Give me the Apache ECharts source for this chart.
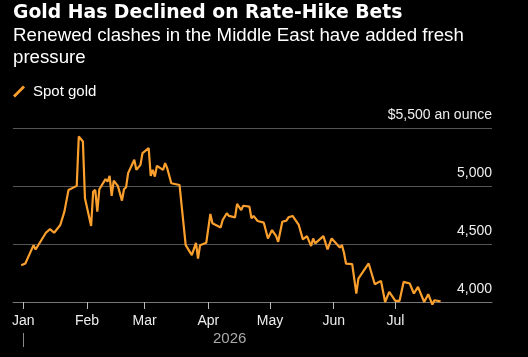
<!DOCTYPE html>
<html>
<head>
<meta charset="utf-8">
<script src="https://cdn.jsdelivr.net/npm/echarts@6/dist/echarts.min.js"></script>
<style>
  html, body { margin: 0; padding: 0; background: #000; }
  #chart { width: 528px; height: 357px; }
</style>
</head>
<body>
<div id="chart"></div>
<script>
// spot gold (approx)
const dates = [
  '2025-12-31', '2026-01-02', '2026-01-06', '2026-01-07', '2026-01-12', '2026-01-14', '2026-01-16',
  '2026-01-19', '2026-01-21', '2026-01-23', '2026-01-27', '2026-01-28', '2026-01-30', '2026-01-31',
  '2026-02-03', '2026-02-04', '2026-02-05', '2026-02-06', '2026-02-07', '2026-02-10', '2026-02-11',
  '2026-02-12', '2026-02-13', '2026-02-14', '2026-02-16', '2026-02-18', '2026-02-19', '2026-02-20',
  '2026-02-21', '2026-02-24', '2026-02-25', '2026-02-27', '2026-02-28', '2026-03-03', '2026-03-04',
  '2026-03-05', '2026-03-06', '2026-03-07', '2026-03-10', '2026-03-11', '2026-03-12', '2026-03-14',
  '2026-03-18', '2026-03-21', '2026-03-24', '2026-03-26', '2026-03-27', '2026-03-28', '2026-03-31',
  '2026-04-02', '2026-04-03', '2026-04-07', '2026-04-08', '2026-04-10', '2026-04-11', '2026-04-14',
  '2026-04-15', '2026-04-17', '2026-04-18', '2026-04-21', '2026-04-22', '2026-04-23', '2026-04-25',
  '2026-04-28', '2026-04-30', '2026-05-02', '2026-05-04', '2026-05-05', '2026-05-07', '2026-05-09',
  '2026-05-10', '2026-05-12', '2026-05-15', '2026-05-17', '2026-05-19', '2026-05-21', '2026-05-22',
  '2026-05-23', '2026-05-27', '2026-05-29', '2026-05-31', '2026-06-03', '2026-06-04', '2026-06-05',
  '2026-06-06', '2026-06-07', '2026-06-10', '2026-06-12', '2026-06-13', '2026-06-18', '2026-06-21',
  '2026-06-24', '2026-06-26', '2026-06-28', '2026-07-01', '2026-07-03', '2026-07-05', '2026-07-08',
  '2026-07-10', '2026-07-12', '2026-07-15', '2026-07-17', '2026-07-19', '2026-07-20', '2026-07-23'
]
const spotGold = [
  4317, 4332, 4490, 4453, 4597, 4628, 4597,
  4664, 4779, 4966, 5001, 5427, 5384, 4894,
  4655, 4952, 4966, 4779, 4972, 5059, 5038,
  5087, 4914, 5047, 5001, 4874, 4972, 4989,
  5111, 5226, 5139, 5182, 5284, 5327, 5087,
  5139, 5081, 5174, 5139, 5197, 5154, 5024,
  5009, 4490, 4404, 4510, 4375, 4490, 4510,
  4759, 4678, 4643, 4707, 4765, 4742, 4730,
  4845, 4793, 4830, 4822, 4721, 4742, 4698,
  4684, 4548, 4620, 4568, 4519, 4692, 4701,
  4730, 4742, 4664, 4540, 4568, 4482, 4548,
  4505, 4568, 4453, 4548, 4490, 4470, 4490,
  4424, 4330, 4326, 4073, 4202, 4332, 4153,
  4182, 4000, 4087, 4009, 4009, 4173, 4159,
  4073, 4130, 4000, 4067, 3978, 4015, 4006
]
const monthStarts = ['2026-01-01', '2026-02-01', '2026-03-01', '2026-04-01', '2026-05-01', '2026-06-01', '2026-07-01']
const monthNames = ['Jan', 'Feb', 'Mar', 'Apr', 'May', 'Jun', 'Jul']
const yTicks = [4000, 4500, 5000, 5500]

const titleText = 'Gold Has Declined on Rate-Hike Bets'
const subtitleText = 'Renewed clashes in the Middle East have added fresh\npressure'
const seriesName = 'Spot gold'
const yearLabel = '2026'

const orange = '#fb9f2d'
const font = 'Liberation Sans'

// x as timestamps on a value axis so custom ticks can sit on month starts
const ts = s => Date.parse(s + 'T00:00:00Z')
const monthTs = monthStarts.map(ts)
const lineData = dates.map((d, i) => [ts(d), spotGold[i]])

const chart = echarts.init(document.getElementById('chart'))

const option = {
  backgroundColor: '#000',
  animation: false,
  title: [
    {
      text: titleText,
      left: 8,
      top: -1,
      textStyle: { color: '#fff', fontFamily: 'DejaVu Sans', fontWeight: 'bold', fontSize: 18.8 }
    },
    {
      text: subtitleText,
      left: 8,
      top: 20,
      textStyle: { color: '#fff', fontFamily: font, fontWeight: 'normal', fontSize: 18.7, lineHeight: 21.8 }
    }
  ],
  legend: {
    left: 8,
    top: 79,
    itemWidth: 12,
    itemHeight: 12,
    data: [{ name: seriesName, icon: 'path://M10,0 L12,2 L2,12 L0,10 Z' }],
    textStyle: { color: '#fff', fontFamily: font, fontSize: 15, padding: [0, 0, 0, 3] }
  },
  grid: { left: 13, right: 36, top: 128, bottom: 55 },
  xAxis: {
    type: 'value',
    min: ts('2025-12-27'),
    max: ts('2026-08-17'),
    axisLine: { show: true, lineStyle: { color: '#777', width: 1 } },
    axisTick: { show: true, length: 7, customValues: monthTs, lineStyle: { color: '#bbb' } },
    splitLine: { show: false },
    axisLabel: {
      customValues: monthTs,
      margin: 12,
      color: '#eee',
      fontFamily: font,
      fontSize: 14,
      formatter: v => monthNames[new Date(v).getUTCMonth()]
    }
  },
  yAxis: {
    type: 'value',
    position: 'right',
    min: 4000,
    max: 5500,
    interval: 500,
    axisLine: { show: false },
    axisTick: { show: false },
    splitLine: { lineStyle: { color: '#555', width: 1 } },
    axisLabel: {
      inside: true,
      margin: 0,
      verticalAlign: 'bottom',
      padding: [0, 0, 6, 0],
      color: '#eee',
      fontFamily: font,
      fontSize: 14,
      formatter: v => (v === yTicks[yTicks.length - 1] ? '$' + v.toLocaleString('en-US') + ' an ounce' : v.toLocaleString('en-US'))
    }
  },
  graphic: [
    {
      type: 'text',
      left: 213,
      top: 331,
      style: { text: yearLabel, fill: '#aaa', font: '15px "Liberation Sans"' }
    },
    {
      type: 'line',
      shape: { x1: 23.5, y1: 333, x2: 23.5, y2: 347 },
      style: { stroke: '#888', lineWidth: 1 }
    }
  ],
  series: [
    {
      name: seriesName,
      type: 'line',
      data: lineData,
      showSymbol: false,
      symbol: 'none',
      clip: false,
      color: orange,
      lineStyle: { color: orange, width: 2.2 }
    }
  ]
}

chart.setOption(option)
</script>
</body>
</html>
